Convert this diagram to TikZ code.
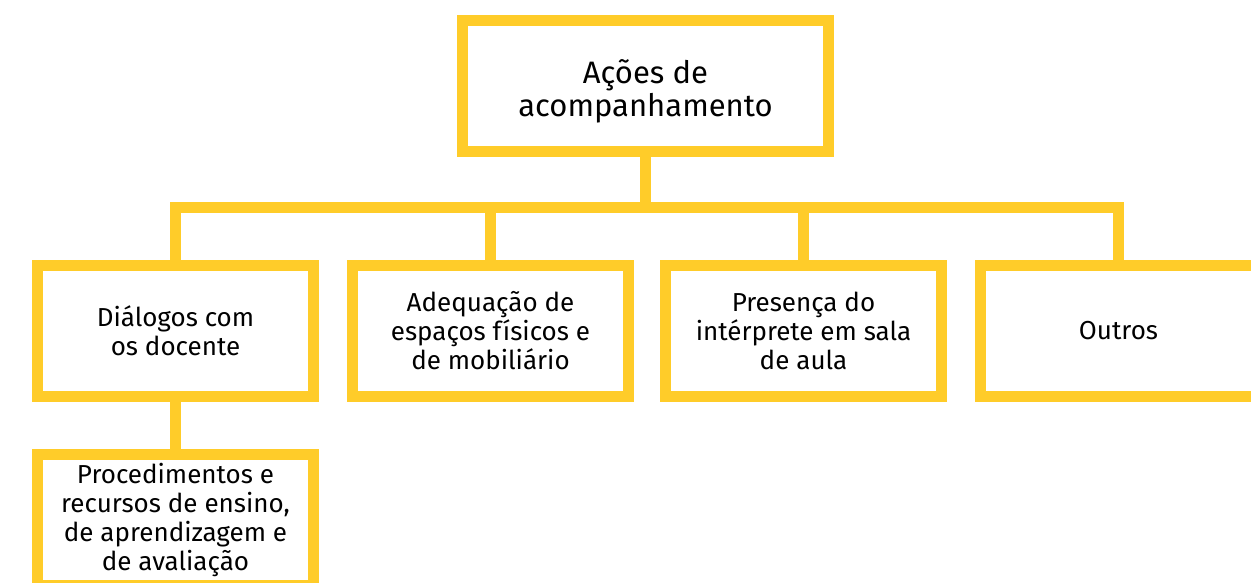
\documentclass[tikz,border=0pt]{standalone}
\usepackage{fontspec}
\setmainfont{Fira Sans}
\definecolor{amarelo}{HTML}{FFCC29}
\begin{document}
\begin{tikzpicture}[x=1pt,y=-1pt,
  box/.style={draw=amarelo, line width=11pt, fill=white, minimum width=276pt,
    minimum height=131pt, inner sep=0pt, align=center, text=black,
    font=\fontsize{26}{29}\selectfont},
  topbox/.style={box, minimum width=366pt},
  toptext/.style={align=center, text=black, inner sep=0pt, font=\fontsize{31}{33}\selectfont},
  link/.style={draw=amarelo, line width=11pt, line join=miter}]
\useasboundingbox (0,0) rectangle (1251,582);
\clip (0,0) rectangle (1251,582);
\coordinate (hub) at (645.5,207.5);
\node[topbox] (top) at (645.5,86) {};
\node[toptext] (toplabel) at (645.5,91) {Ações de\\acompanhamento};
\node[box] (d1) at (175.5,331) {Diálogos com\\os docente};
\node[box] (d2) at (490.5,331) {Adequação de\\espaços físicos e\\de mobiliário};
\node[box] (d3) at (803.5,331) {Presença do\\intérprete em sala\\de aula};
\node[box] (d4) at (1118.5,331) {Outros};
\node[box] (d5) at (175.5,520) {Procedimentos e\\recursos de ensino,\\de aprendizagem e\\de avaliação};
\draw[link] (d1.north) |- (hub) -| (d4.north);
\draw[link] (top.south) -- (hub);
\draw[link] (d2.north) -- (d2.north |- hub);
\draw[link] (d3.north) -- (d3.north |- hub);
\draw[link] (d1.south) -- (d5.north);
\end{tikzpicture}
\end{document}
